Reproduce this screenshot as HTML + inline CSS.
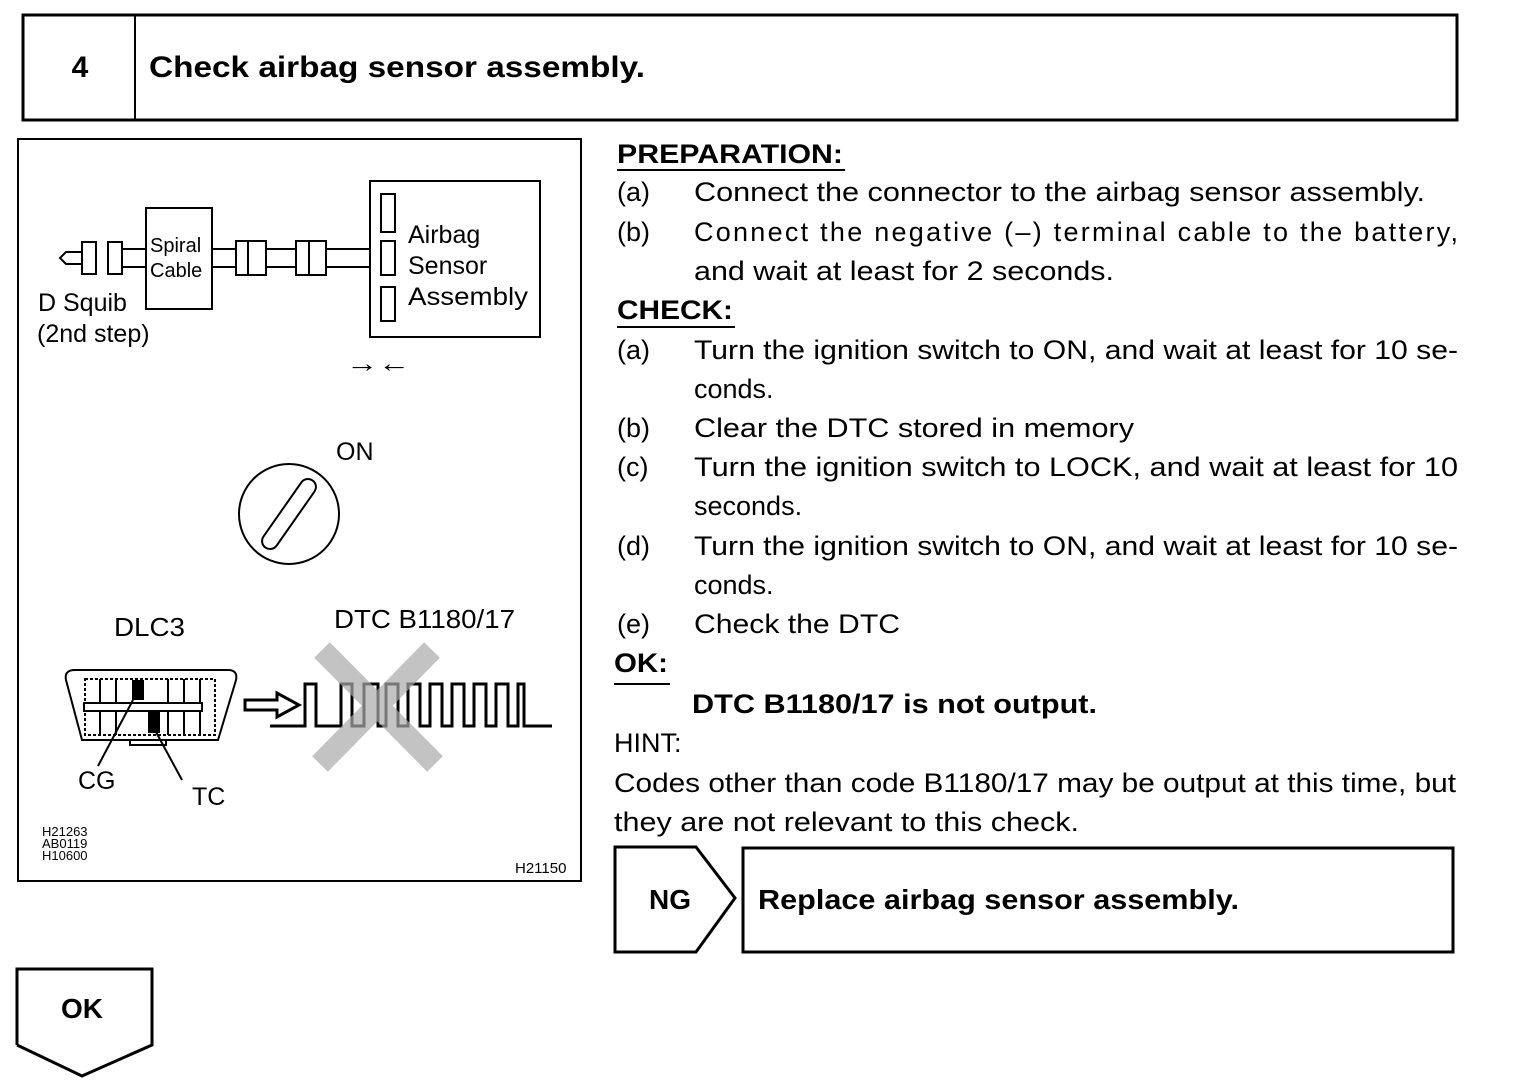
<!DOCTYPE html>
<html><head><meta charset="utf-8"><style>
html,body{margin:0;padding:0;background:#fff;}
svg{display:block;}
text{font-family:"Liberation Sans",Arial,sans-serif;fill:#000;}
.b{font-weight:bold;}
</style></head><body>
<svg width="1520" height="1092" viewBox="0 0 1520 1092" xmlns="http://www.w3.org/2000/svg">
<!-- title -->
<rect x="23" y="15" width="1434" height="105" fill="none" stroke="#000" stroke-width="3"/>
<line x1="135" y1="15" x2="135" y2="120" stroke="#000" stroke-width="2"/>
<text x="80" y="77" font-size="30" class="b" text-anchor="middle">4</text>
<text x="149" y="77" font-size="30" class="b" textLength="496" lengthAdjust="spacingAndGlyphs">Check airbag sensor assembly.</text>

<!-- diagram box -->
<rect x="18" y="139" width="563" height="742" fill="none" stroke="#000" stroke-width="2"/>
<g stroke="#000" stroke-width="2" fill="none">
 <polyline points="76,252 66,252 60,258 66,264 76,264"/>
 <line x1="76" y1="252" x2="82" y2="252"/><line x1="76" y1="264" x2="82" y2="264"/>
 <rect x="82" y="242" width="14" height="32"/>
 <rect x="108" y="242" width="14" height="32"/>
 <line x1="122" y1="249" x2="146" y2="249"/><line x1="122" y1="267" x2="146" y2="267"/>
 <rect x="146" y="208" width="66" height="101"/>
 <line x1="212" y1="249" x2="236" y2="249"/><line x1="212" y1="267" x2="236" y2="267"/>
 <rect x="236" y="241" width="30" height="34"/><line x1="248" y1="241" x2="248" y2="275"/>
 <line x1="266" y1="249" x2="296" y2="249"/><line x1="266" y1="267" x2="296" y2="267"/>
 <rect x="296" y="241" width="30" height="34"/><line x1="309" y1="241" x2="309" y2="275"/>
 <line x1="326" y1="249" x2="370" y2="249"/><line x1="326" y1="267" x2="370" y2="267"/>
 <rect x="370" y="181" width="170" height="156"/>
 <rect x="381" y="194" width="14" height="38"/>
 <rect x="381" y="241" width="14" height="34"/>
 <rect x="381" y="287" width="14" height="34"/>
 <circle cx="289" cy="514" r="50"/>
 <g transform="rotate(-55 289 514)"><rect x="248" y="506" width="82" height="16" rx="8"/></g>
</g>
<text x="150" y="252" font-size="20">Spiral</text>
<text x="150" y="277" font-size="20">Cable</text>
<text x="408" y="243" font-size="25">Airbag</text>
<text x="408" y="274" font-size="25">Sensor</text>
<text x="408" y="305" font-size="25" textLength="120" lengthAdjust="spacingAndGlyphs">Assembly</text>
<text x="38" y="311" font-size="25">D Squib</text>
<text x="37" y="342" font-size="25">(2nd step)</text>
<text x="346" y="372" font-size="26" textLength="64" lengthAdjust="spacingAndGlyphs">→←</text>
<text x="336" y="460" font-size="25">ON</text>
<text x="114" y="636" font-size="26" textLength="71" lengthAdjust="spacingAndGlyphs">DLC3</text>
<text x="334" y="628" font-size="26" textLength="181" lengthAdjust="spacingAndGlyphs">DTC B1180/17</text>

<g stroke="#000" stroke-width="2" fill="none">
 <path d="M75,670 L228,670 Q238,670 236,680 L218,740 L82,740 L66,680 Q64,670 75,670 Z"/>
 <rect x="85" y="679" width="130" height="56" stroke-dasharray="3,2"/>
 <line x1="100" y1="679" x2="100" y2="735"/><line x1="116" y1="679" x2="116" y2="735"/>
 <line x1="168" y1="679" x2="168" y2="735"/><line x1="184" y1="679" x2="184" y2="735"/><line x1="200" y1="679" x2="200" y2="735"/>
 <rect x="84" y="703" width="118" height="8" fill="#fff"/>
 <rect x="130" y="740" width="36" height="5"/>
 <line x1="133" y1="700" x2="98" y2="766"/>
 <line x1="156" y1="732" x2="182" y2="780"/>
 <path d="M245,700 L277,700 L277,693 L299,705 L277,717 L277,710 L245,710 Z" stroke-width="3"/>
 <polyline stroke-width="3" points="270,726 305,726 305,684 316,684 316,726 341,726 341,684 352,684 352,726 364,726 364,684 378,684 378,726 386,726 386,684 398,684 398,726 408,726 408,684 420,684 420,726 430,726 430,684 442,684 442,726 452,726 452,684 464,684 464,726 474,726 474,684 486,684 486,726 496,726 496,684 508,684 508,726 518,726 518,684 524,684 524,726 552,726"/>
</g>
<rect x="132" y="680" width="12" height="20" fill="#000"/>
<rect x="148" y="712" width="12" height="21" fill="#000"/>
<g stroke="#aaa" stroke-width="22" opacity="0.7">
 <line x1="322" y1="650" x2="435" y2="764"/>
 <line x1="432" y1="650" x2="320" y2="764"/>
</g>
<text x="78" y="789" font-size="25">CG</text>
<text x="192" y="805" font-size="25">TC</text>
<text x="42" y="836" font-size="13">H21263</text>
<text x="42" y="848" font-size="13">AB0119</text>
<text x="42" y="860" font-size="13">H10600</text>
<text x="515" y="873" font-size="15">H21150</text>

<g font-size="27">
<text x="617" y="163" class="b" textLength="226" lengthAdjust="spacingAndGlyphs">PREPARATION:</text>
<line x1="617" y1="170" x2="845" y2="170" stroke="#000" stroke-width="2"/>
<text x="617" y="201">(a)</text><text x="694" y="201" textLength="731" lengthAdjust="spacingAndGlyphs">Connect the connector to the airbag sensor assembly.</text>
<text x="617" y="241">(b)</text><text x="694" y="241" textLength="764" lengthAdjust="spacing">Connect the negative (–) terminal cable to the battery,</text>
<text x="694" y="280" textLength="420" lengthAdjust="spacingAndGlyphs">and wait at least for 2 seconds.</text>
<text x="617" y="319" class="b" textLength="116" lengthAdjust="spacingAndGlyphs">CHECK:</text>
<line x1="617" y1="327" x2="735" y2="327" stroke="#000" stroke-width="2"/>
<text x="617" y="359">(a)</text><text x="694" y="359" textLength="764" lengthAdjust="spacingAndGlyphs">Turn the ignition switch to ON, and wait at least for 10 se-</text>
<text x="694" y="398">conds.</text>
<text x="617" y="437">(b)</text><text x="694" y="437" textLength="440" lengthAdjust="spacingAndGlyphs">Clear the DTC stored in memory</text>
<text x="617" y="476">(c)</text><text x="694" y="476" textLength="764" lengthAdjust="spacingAndGlyphs">Turn the ignition switch to LOCK, and wait at least for 10</text>
<text x="694" y="515">seconds.</text>
<text x="617" y="555">(d)</text><text x="694" y="555" textLength="764" lengthAdjust="spacingAndGlyphs">Turn the ignition switch to ON, and wait at least for 10 se-</text>
<text x="694" y="594">conds.</text>
<text x="617" y="633">(e)</text><text x="694" y="633" textLength="206" lengthAdjust="spacingAndGlyphs">Check the DTC</text>
<text x="614" y="672" class="b" textLength="54" lengthAdjust="spacingAndGlyphs">OK:</text>
<line x1="614" y1="684" x2="670" y2="684" stroke="#000" stroke-width="2"/>
<text x="692" y="713" class="b" textLength="405" lengthAdjust="spacingAndGlyphs">DTC B1180/17 is not output.</text>
<text x="614" y="752">HINT:</text>
<text x="614" y="792" textLength="842" lengthAdjust="spacingAndGlyphs">Codes other than code B1180/17 may be output at this time, but</text>
<text x="614" y="831" textLength="465" lengthAdjust="spacingAndGlyphs">they are not relevant to this check.</text>
</g>

<polygon points="615,847 696,847 735,898 696,952 615,952" fill="none" stroke="#000" stroke-width="3"/>
<text x="670" y="909" font-size="28" class="b" text-anchor="middle">NG</text>
<rect x="743" y="848" width="710" height="104" fill="none" stroke="#000" stroke-width="3"/>
<text x="758" y="909" font-size="28" class="b" textLength="481" lengthAdjust="spacingAndGlyphs">Replace airbag sensor assembly.</text>

<polyline points="17,1045 17,969 152,969 152,1045 82,1076 17,1045" fill="none" stroke="#000" stroke-width="3"/>
<text x="82" y="1018" font-size="28" class="b" text-anchor="middle">OK</text>
</svg>
</body></html>
